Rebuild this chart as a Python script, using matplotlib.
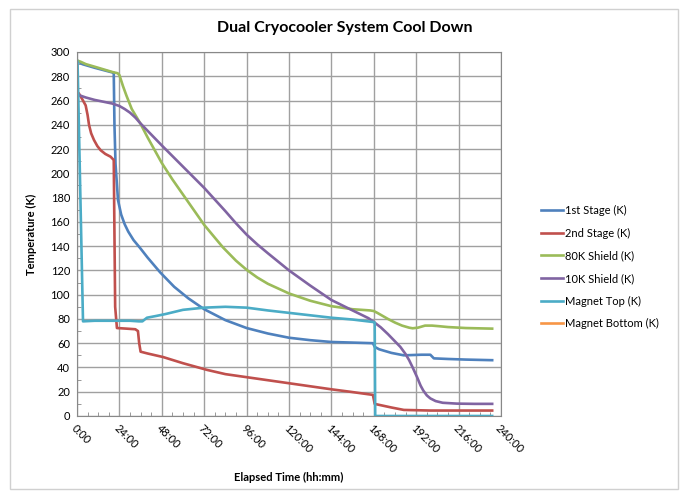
import matplotlib
matplotlib.use("Agg")
import matplotlib.pyplot as plt
from matplotlib.patches import Rectangle
from matplotlib.ticker import MultipleLocator, FuncFormatter

plt.rcParams['font.family'] = ['Lato', 'DejaVu Sans']

# Elapsed time in hours, temperatures in K
stage1_t = [0, 3, 10, 20.4, 20.8, 21.2, 21.8, 23.2, 25, 27, 29, 32, 35.7, 40, 47,
            55, 63, 72, 84, 96, 108, 120, 132, 144, 156, 167.5, 168.5, 171, 178,
            185, 195, 200, 202, 210, 220, 235]
stage1_T = [293, 290, 287, 283, 283, 240, 208, 178, 166, 158, 152, 145, 138.5,
            130.5, 118.5, 106.5, 97, 88, 79, 72.5, 68, 64.5, 62.5, 61, 60.5, 60,
            57, 55, 52, 50, 50.5, 50.5, 47.5, 47, 46.5, 46]

stage2_t = [0, 1, 3, 4.9, 6, 6.8, 8, 9.6, 11.5, 13.4, 16, 19, 20.8, 21.2, 21.6,
            22.6, 28, 33, 34.5, 35.2, 36, 40, 48.7, 60, 73.6, 84, 96, 108, 120,
            132, 144, 154.5, 162, 167.5, 168.5, 170, 178, 185, 200, 220, 235]
stage2_T = [267, 266, 261, 256, 248, 240, 233, 227.5, 222.5, 219, 216, 213.7, 211,
            150, 90, 72.5, 72, 71.5, 70, 60, 53, 51.5, 48.6, 43.5, 38, 34.5, 32,
            29.5, 27, 24.5, 22, 20, 18.5, 17.4, 10, 9.5, 7, 5, 4.5, 4.5, 4.5]

shield80_t = [0, 2, 5, 12, 20, 23, 24, 26, 28, 31, 35.7, 40, 48, 54, 60, 66, 72,
              78, 82.6, 90, 96, 102, 108, 120, 132, 144, 156, 166, 168, 170, 173,
              176, 180, 184, 188, 190, 193, 197, 201, 205, 210, 220, 235]
shield80_T = [293, 292, 290, 287, 283.5, 282.5, 281, 272, 264, 253, 241.5, 229.5,
              208.5, 195, 182.5, 170, 157.5, 147, 139, 128, 120.5, 114.2, 109, 101,
              95, 90.5, 88, 87, 86.5, 85, 82.5, 80, 77, 74.5, 72.8, 72.3, 72.8,
              74.5, 74.5, 74, 73.3, 72.5, 72]

shield10_t = [0, 5, 10, 15, 20, 24, 27, 30, 33, 35.7, 40, 48, 60, 72, 84, 90, 96,
              102, 108, 120, 132, 144, 156, 165, 168, 172, 176, 180, 183, 186, 188,
              190, 192.5, 194.5, 196, 198, 200, 203, 207, 215, 225, 235]
shield10_T = [265, 262.5, 260.5, 259, 257.5, 255.5, 253, 250, 246, 241.5, 235,
              223, 205.5, 188, 168.8, 158.8, 149.5, 141.5, 134.2, 120, 107.5,
              95.6, 87, 80.6, 77.5, 73, 67.5, 61.5, 57, 51, 46, 40, 32, 25, 21,
              17, 14.5, 12.3, 10.9, 10.2, 10, 10]

magtop_t = [0, 0.3, 3.4, 10, 20, 30, 35, 37, 39.6, 45, 50, 60, 72, 84, 96, 108,
            120, 132, 144, 156, 167.5, 168.5, 168.8, 180, 200, 220, 235]
magtop_T = [293, 292, 78, 78.5, 78.5, 78.5, 78, 78, 81, 82.5, 84, 87.5, 89.3, 90,
            89.3, 87, 85, 83, 81, 79.5, 77.5, 77, 0, 0, 0, 0, 0]

# no readings shown for the bottom sensor
magbot_t = []
magbot_T = []

series = [
    ("1st Stage (K)", stage1_t, stage1_T, "#4F81BD"),
    ("2nd Stage (K)", stage2_t, stage2_T, "#C0504D"),
    ("80K Shield (K)", shield80_t, shield80_T, "#9BBB59"),
    ("10K Shield (K)", shield10_t, shield10_T, "#8064A2"),
    ("Magnet Top (K)", magtop_t, magtop_T, "#4BACC6"),
    ("Magnet Bottom (K)", magbot_t, magbot_T, "#F79646"),
]

fig = plt.figure(figsize=(6.81, 4.91), dpi=100)
ax = fig.add_axes([77 / 681, 1 - 416 / 491, 424 / 681, 364 / 491])

# chart border
fig.patches.append(Rectangle((10 / 681, 2 / 491), 668 / 681, 480 / 491,
                             transform=fig.transFigure, fill=False,
                             edgecolor="#d0d0d0", linewidth=1))

for name, t, T, color in series:
    ax.plot(t, T, color=color, lw=1.9, label=name, solid_joinstyle="round")

ax.set_xlim(0, 240)
ax.set_ylim(0, 300)
ax.xaxis.set_major_locator(MultipleLocator(24))
ax.xaxis.set_minor_locator(MultipleLocator(6))
ax.yaxis.set_major_locator(MultipleLocator(20))
ax.yaxis.set_minor_locator(MultipleLocator(10))
ax.xaxis.set_major_formatter(FuncFormatter(lambda v, p: f"{int(v)}:00"))

ax.grid(True, which="major", color="#a0a0a0", lw=1)
ax.set_axisbelow(True)
for s in ax.spines.values():
    s.set_color("#888888")
ax.tick_params(which="major", length=0, labelsize=8, pad=5)
ax.tick_params(which="minor", direction="in", length=3, color="#888888")

for lab in ax.get_xticklabels():
    lab.set_rotation(-45)
    lab.set_ha("left")
    lab.set_va("top")
    lab.set_rotation_mode("anchor")

ax.set_xlabel("Elapsed Time (hh:mm)", fontsize=8, fontweight="bold", labelpad=12)
ax.set_ylabel("Temperature (K)", fontsize=8, fontweight="bold", labelpad=10)
fig.text(345 / 681, 1 - 28 / 491, "Dual Cryocooler System Cool Down",
         ha="center", va="center", fontsize=11.5, fontweight="bold")

ax.legend(loc="center left", bbox_to_anchor=(531 / 681, 1 - 267 / 491),
          bbox_transform=fig.transFigure, frameon=False, fontsize=8,
          handlelength=2.0, handletextpad=0.15, labelspacing=1.05)

fig.savefig("out.png", dpi=100)
